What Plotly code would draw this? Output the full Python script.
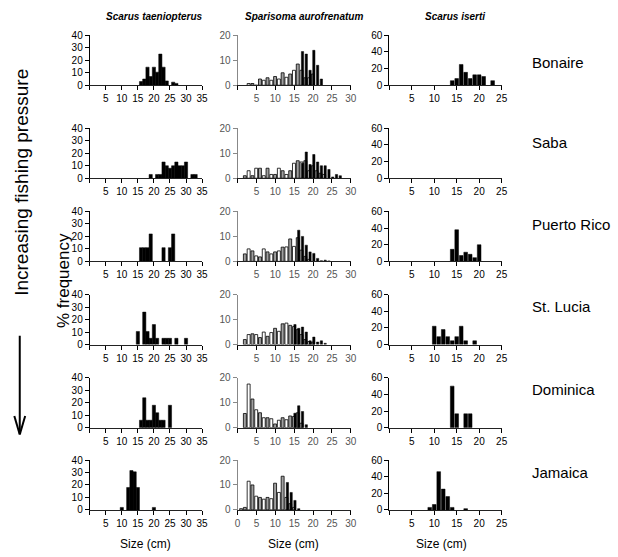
import plotly.graph_objects as go

# ---------------- data (% frequency by 1-cm size class) ----------------
SITES = ["Bonaire", "Saba", "Puerto Rico", "St. Lucia", "Dominica", "Jamaica"]
SPECIES = ["Scarus taeniopterus", "Sparisoma aurofrenatum", "Scarus iserti"]

# Scarus taeniopterus
ST_BON_X = [16, 17, 18, 19, 20, 21, 22, 23, 24, 26, 27]
ST_BON_Y = [3, 5, 14.5, 7, 14.5, 10.5, 25, 14.5, 3.5, 2.5, 1.5]
ST_SAB_X = [19, 21, 22, 23, 24, 25, 26, 27, 28, 29, 30, 32, 33]
ST_SAB_Y = [3, 3, 3, 13, 10, 8, 10, 13, 10, 10, 13, 3, 3]
ST_PUR_X = [16, 17, 18, 19, 23, 25, 26]
ST_PUR_Y = [11, 11, 11, 22, 11, 11, 22]
ST_STL_X = [15, 17, 18, 19, 20, 21, 23, 24, 25, 27, 30]
ST_STL_Y = [10.5, 26, 10.5, 5, 16, 5, 5, 5, 5, 5, 5]
ST_DOM_X = [16, 17, 18, 19, 20, 21, 22, 23, 25]
ST_DOM_Y = [6, 24, 6, 6, 18, 12, 6, 6, 18]
ST_JAM_X = [10, 12, 13, 14, 15, 20]
ST_JAM_Y = [2, 18, 31.5, 30.5, 18, 2]

# Sparisoma aurofrenatum: initial phase (light) and terminal phase (black)
SA_BON_IP_X = list(range(3, 21))
SA_BON_IP_Y = [0.7, 0.7, 0, 2.5, 2, 3, 2, 3.5, 2.5, 5, 3.2, 4.5, 6, 8.5, 6, 3, 3, 4.5]
SA_BON_TP_X = list(range(17, 23))
SA_BON_TP_Y = [13.5, 12.5, 6, 14, 8, 2.5]
SA_SAB_IP_X = list(range(2, 24))
SA_SAB_IP_Y = [1, 3, 1, 4, 4, 1, 4, 1.5, 1.5, 4, 3, 1.5, 3, 6, 7, 6.5, 7, 3, 5, 3, 2, 1.5]
SA_SAB_TP_X = list(range(17, 28))
SA_SAB_TP_Y = [6, 10.5, 5.5, 9.5, 6.5, 5, 5, 3.5, 0.5, 1.5, 1]
SA_PUR_IP_X = list(range(2, 20))
SA_PUR_IP_Y = [3, 5, 4.2, 2.2, 1.8, 5, 3.8, 3, 3.8, 4.2, 5.7, 5.8, 9, 6, 9.5, 4.5, 2, 0.8]
SA_PUR_TP_X = list(range(16, 25))
SA_PUR_TP_Y = [12.5, 10, 6.5, 3.8, 3.2, 1.2, 0.3, 0.5, 0.2]
SA_STL_IP_X = list(range(2, 21))
SA_STL_IP_Y = [2, 4, 4.3, 4, 2.8, 5, 3.3, 4.8, 6.5, 5.3, 8.3, 8.6, 7.7, 7.2, 6, 4, 2, 1.2, 1]
SA_STL_TP_X = list(range(15, 24))
SA_STL_TP_Y = [8, 6.5, 7, 5, 1.5, 3, 1, 1.5, 0.5]
SA_DOM_IP_X = list(range(2, 18))
SA_DOM_IP_Y = [5.7, 17.5, 11.5, 7.2, 6, 4, 4, 3.6, 1.5, 3, 4, 3.2, 4.7, 4.5, 6, 1.8]
SA_DOM_TP_X = list(range(15, 19))
SA_DOM_TP_Y = [5.8, 8.8, 6.5, 1.2]
SA_JAM_IP_X = list(range(1, 16))
SA_JAM_IP_Y = [0.5, 1, 11.5, 10, 5.5, 5, 4.3, 5, 4.5, 10.7, 7, 13.5, 5, 2.5, 1]
SA_JAM_TP_X = list(range(13, 17))
SA_JAM_TP_Y = [11, 7, 3.8, 0.5]

# Scarus iserti
SI_BON_X = [14, 15, 16, 17, 18, 19, 20, 21, 23]
SI_BON_Y = [5.5, 8, 25, 15.5, 8, 12.5, 12.5, 10.5, 5.5]
SI_SAB_X = []
SI_SAB_Y = []
SI_PUR_X = [14, 15, 16, 17, 18, 19, 20]
SI_PUR_Y = [14.5, 38, 7, 11, 8.5, 4.5, 20]
SI_STL_X = [10, 11, 12, 13, 14, 15, 16, 17, 19]
SI_STL_Y = [22, 9.5, 18, 9.5, 4.5, 9.5, 22, 4.5, 4.5]
SI_DOM_X = [14, 15, 17, 18]
SI_DOM_Y = [50, 16.7, 16.7, 16.7]
SI_JAM_X = [9, 10, 11, 12, 13, 14, 17]
SI_JAM_Y = [3, 6.5, 46, 25, 16, 3, 1.5]

X_MAX = [35, 30, 25]
Y_TICKS = [[0, 10, 20, 30, 40], [0, 10, 20], [0, 20, 40, 60]]

ST_DATA = [(ST_BON_X, ST_BON_Y), (ST_SAB_X, ST_SAB_Y), (ST_PUR_X, ST_PUR_Y),
           (ST_STL_X, ST_STL_Y), (ST_DOM_X, ST_DOM_Y), (ST_JAM_X, ST_JAM_Y)]
SI_DATA = [(SI_BON_X, SI_BON_Y), (SI_SAB_X, SI_SAB_Y), (SI_PUR_X, SI_PUR_Y),
           (SI_STL_X, SI_STL_Y), (SI_DOM_X, SI_DOM_Y), (SI_JAM_X, SI_JAM_Y)]
SA_DATA = [(SA_BON_IP_X, SA_BON_IP_Y, SA_BON_TP_X, SA_BON_TP_Y),
           (SA_SAB_IP_X, SA_SAB_IP_Y, SA_SAB_TP_X, SA_SAB_TP_Y),
           (SA_PUR_IP_X, SA_PUR_IP_Y, SA_PUR_TP_X, SA_PUR_TP_Y),
           (SA_STL_IP_X, SA_STL_IP_Y, SA_STL_TP_X, SA_STL_TP_Y),
           (SA_DOM_IP_X, SA_DOM_IP_Y, SA_DOM_TP_X, SA_DOM_TP_Y),
           (SA_JAM_IP_X, SA_JAM_IP_Y, SA_JAM_TP_X, SA_JAM_TP_Y)]

# ---------------- layout geometry (pixels) ----------------
W, H = 618, 557
COL_PX = [(88, 202), (238, 353), (392, 506)]
ROW_PX = [(30, 81), (125, 176), (210, 261), (295, 346), (380, 431), (464, 515)]
FONT = "Liberation Sans, Arial, sans-serif"


def px_x(a, b):
    return [a / W, b / W]


def px_y(top, bottom):
    return [1 - bottom / H, 1 - top / H]


fig = go.Figure()
layout = {}

for r in range(6):
    for c in range(3):
        idx = r * 3 + c + 1
        xname = "x" if idx == 1 else f"x{idx}"
        yname = "y" if idx == 1 else f"y{idx}"
        xkey = "xaxis" if idx == 1 else f"xaxis{idx}"
        ykey = "yaxis" if idx == 1 else f"yaxis{idx}"

        txtcol = "#555555" if c == 1 else "black"
        ylinecol = "#888888" if c == 1 else "black"

        if c == 0:
            xs, ys = ST_DATA[r]
            fig.add_trace(go.Bar(x=xs, y=ys, width=1.0, xaxis=xname, yaxis=yname,
                                 marker=dict(color="black", line=dict(color="black", width=0.5)),
                                 showlegend=False, hoverinfo="skip"))
        elif c == 2:
            xs, ys = SI_DATA[r]
            if xs:
                fig.add_trace(go.Bar(x=xs, y=ys, width=0.82, xaxis=xname, yaxis=yname,
                                     marker=dict(color="black", line=dict(color="black", width=0.5)),
                                     showlegend=False))
            else:
                # empty panel: invisible placeholder so the axes are still drawn
                fig.add_trace(go.Scatter(x=[0], y=[0], mode="markers", xaxis=xname, yaxis=yname,
                                         marker=dict(opacity=0), showlegend=False,
                                         hoverinfo="skip"))
        else:
            ipx, ipy, tpx, tpy = SA_DATA[r]
            fills = ["white" if s % 2 else "#a0a0a0" for s in ipx]
            fig.add_trace(go.Bar(x=ipx, y=ipy, width=0.78, offset=-0.45, xaxis=xname, yaxis=yname,
                                 marker=dict(color=fills, line=dict(color="black", width=0.8)),
                                 showlegend=False))
            fig.add_trace(go.Bar(x=tpx, y=tpy, width=0.6, offset=-0.1, xaxis=xname, yaxis=yname,
                                 marker=dict(color="black", line=dict(color="black", width=0.5)),
                                 showlegend=False))

        xmax = X_MAX[c]
        xt = list(range(0, xmax + 1, 5))
        xtt = [("0" if (c == 1 and r == 5) else "") if v == 0 else str(v) for v in xt]
        layout[xkey] = dict(domain=px_x(*COL_PX[c]), anchor=yname, range=[0, xmax],
                            tickmode="array", tickvals=xt, ticktext=xtt,
                            ticks="outside", ticklen=4, tickwidth=1, tickcolor="black",
                            showline=True, linecolor="#222222", linewidth=1,
                            showgrid=False, zeroline=False, fixedrange=True,
                            tickfont=dict(family=FONT, size=10, color=txtcol))
        yt = Y_TICKS[c]
        layout[ykey] = dict(domain=px_y(*ROW_PX[r]), anchor=xname, range=[0, yt[-1]],
                            tickmode="array", tickvals=yt, ticktext=[str(v) for v in yt],
                            ticks="outside", ticklen=4, tickwidth=1, tickcolor=ylinecol,
                            showline=True, linecolor=ylinecol, linewidth=1,
                            showgrid=False, zeroline=False, fixedrange=True,
                            tickfont=dict(family=FONT, size=10, color=txtcol))

annotations = []
# column titles
TITLE_PX = [(154, 11), (305, 11), (459, 11)]
for name, (tx, ty) in zip(SPECIES, TITLE_PX):
    annotations.append(dict(text=f"<b><i>{name}</i></b>", x=tx / W, y=1 - ty / H,
                            xref="paper", yref="paper", showarrow=False,
                            xanchor="center", yanchor="middle",
                            font=dict(family=FONT, size=10, color="black")))
# site labels
SITE_Y = [58, 140, 223, 307, 392, 477]
for name, sy in zip(SITES, SITE_Y):
    annotations.append(dict(text=name, x=535 / W, y=1 - sy / H, xref="paper", yref="paper",
                            showarrow=False, xanchor="left", yanchor="middle",
                            font=dict(family=FONT, size=15, color="black")))
# x axis titles
for cx in [145, 295, 445]:
    annotations.append(dict(text="Size (cm)", x=cx / W, y=1 - 550 / H, xref="paper", yref="paper",
                            showarrow=False, xanchor="center", yanchor="middle",
                            font=dict(family=FONT, size=12, color="black")))
# y label
annotations.append(dict(text="% frequency", x=62 / W, y=1 - 281 / H, xref="paper", yref="paper",
                        showarrow=False, textangle=-90, xanchor="center", yanchor="middle",
                        font=dict(family=FONT, size=17, color="black")))
annotations.append(dict(text="Increasing fishing pressure", x=18 / W, y=1 - 180 / H,
                        xref="paper", yref="paper", showarrow=False, textangle=-90,
                        xanchor="center", yanchor="middle",
                        font=dict(family=FONT, size=19, color="black")))

shapes = [
    dict(type="line", xref="paper", yref="paper", x0=17 / W, x1=17 / W,
         y0=1 - 337 / H, y1=1 - 437 / H, line=dict(color="black", width=2)),
    dict(type="line", xref="paper", yref="paper", x0=11.5 / W, x1=17 / W,
         y0=1 - 419 / H, y1=1 - 438 / H, line=dict(color="black", width=2)),
    dict(type="line", xref="paper", yref="paper", x0=22.5 / W, x1=17 / W,
         y0=1 - 419 / H, y1=1 - 438 / H, line=dict(color="black", width=2)),
]

fig.update_layout(width=W, height=H, margin=dict(l=0, r=0, t=0, b=0),
                  paper_bgcolor="white", plot_bgcolor="white", barmode="overlay",
                  showlegend=False, annotations=annotations, shapes=shapes,
                  font=dict(family=FONT), **layout)

fig.write_html("out.html", config={"displayModeBar": False})
